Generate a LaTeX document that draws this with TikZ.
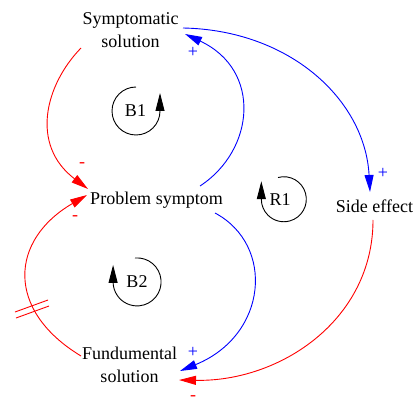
\documentclass[tikz,border=0pt]{standalone}
\usepackage{fontspec}
\setmainfont{Liberation Serif}
\usetikzlibrary{arrows.meta}
\definecolor{cldred}{RGB}{255,0,0}
\definecolor{cldblue}{RGB}{0,0,255}
\begin{document}
\begin{tikzpicture}[x=1pt,y=-1pt,
  every node/.style={font=\fontsize{18pt}{23pt}\selectfont, inner sep=0pt, align=center},
  var/.style={text=black},
  pos link/.style={cldblue, line width=0.9pt, -{Triangle[length=17pt,width=9pt]}},
  neg link/.style={cldred, line width=0.9pt, -{Triangle[length=17pt,width=9pt]}},
  loopmark/.style={black, line width=0.9pt, -{Triangle[length=18pt,width=9pt]}},
  plussign/.style={text=cldblue},
  minussign/.style={text=cldred}]
\useasboundingbox (0,0) rectangle (417,403);
% variables
\node[var] (ss) at (130.5,30) {Symptomatic\\solution};
\node[var] (ps) at (156.5,200) {Problem symptom};
\node[var] (se) at (374.5,206) {Side effect};
\node[var] (fs) at (129.5,364.5) {Fundumental\\solution};
% loop labels
\node (b1) at (135.5,111) {B1};
\node (b2) at (137,282) {B2};
\node (r1) at (280,200) {R1};
% loop markers
\draw[loopmark] ([shift={(0.5,-24)}]b1.center) arc[start angle=270,end angle=0,radius=24] -- ++(0,-18);
\draw[loopmark] ([shift={(-2,-24)}]b2.center) arc[start angle=265,end angle=540,radius=24] -- ++(0,-17);
\draw[loopmark] ([shift={(-2,-22.5)}]r1.center) arc[start angle=255,end angle=540,radius=22.5] -- ++(0,-18);
% links
\draw[neg link] ([shift={(-49.5,18)}]ss.center) .. controls (45,85) and (30,145) .. ([shift={(-68.5,-11)}]ps.center);
\draw[neg link] ([shift={(-48.5,-8.5)}]fs.center) .. controls (5,310) and (10,240) .. ([shift={(-69.5,-5)}]ps.center);
\draw[pos link] ([shift={(43.5,-14)}]ps.center) .. controls (255,150) and (262,70) .. ([shift={(54.5,4)}]ss.center);
\draw[pos link] ([shift={(52.5,-2)}]ss.center) .. controls (290,30) and (365,100) .. ([shift={(-4.5,-14)}]se.center);
\draw[pos link] ([shift={(58.5,13)}]ps.center) .. controls (275,245) and (268,335) .. ([shift={(50.5,6.5)}]fs.center);
\draw[neg link] ([shift={(-1.5,14)}]se.center) .. controls (373,320) and (280,382) .. ([shift={(49.5,15.5)}]fs.center);
% delay mark
\draw[cldred, line width=0.9pt] (15,312) -- (48,300);
\draw[cldred, line width=0.9pt] (16,318) -- (49,306);
% polarity signs
\node[minussign] (m1) at (82,165) {-};
\node[minussign] (m2) at (75,218) {-};
\node[plussign] (p1) at (193,52) {+};
\node[plussign] (p2) at (383,173) {+};
\node[plussign] (p3) at (193,352) {+};
\node[minussign] (m3) at (193,398) {-};
\end{tikzpicture}
\end{document}
